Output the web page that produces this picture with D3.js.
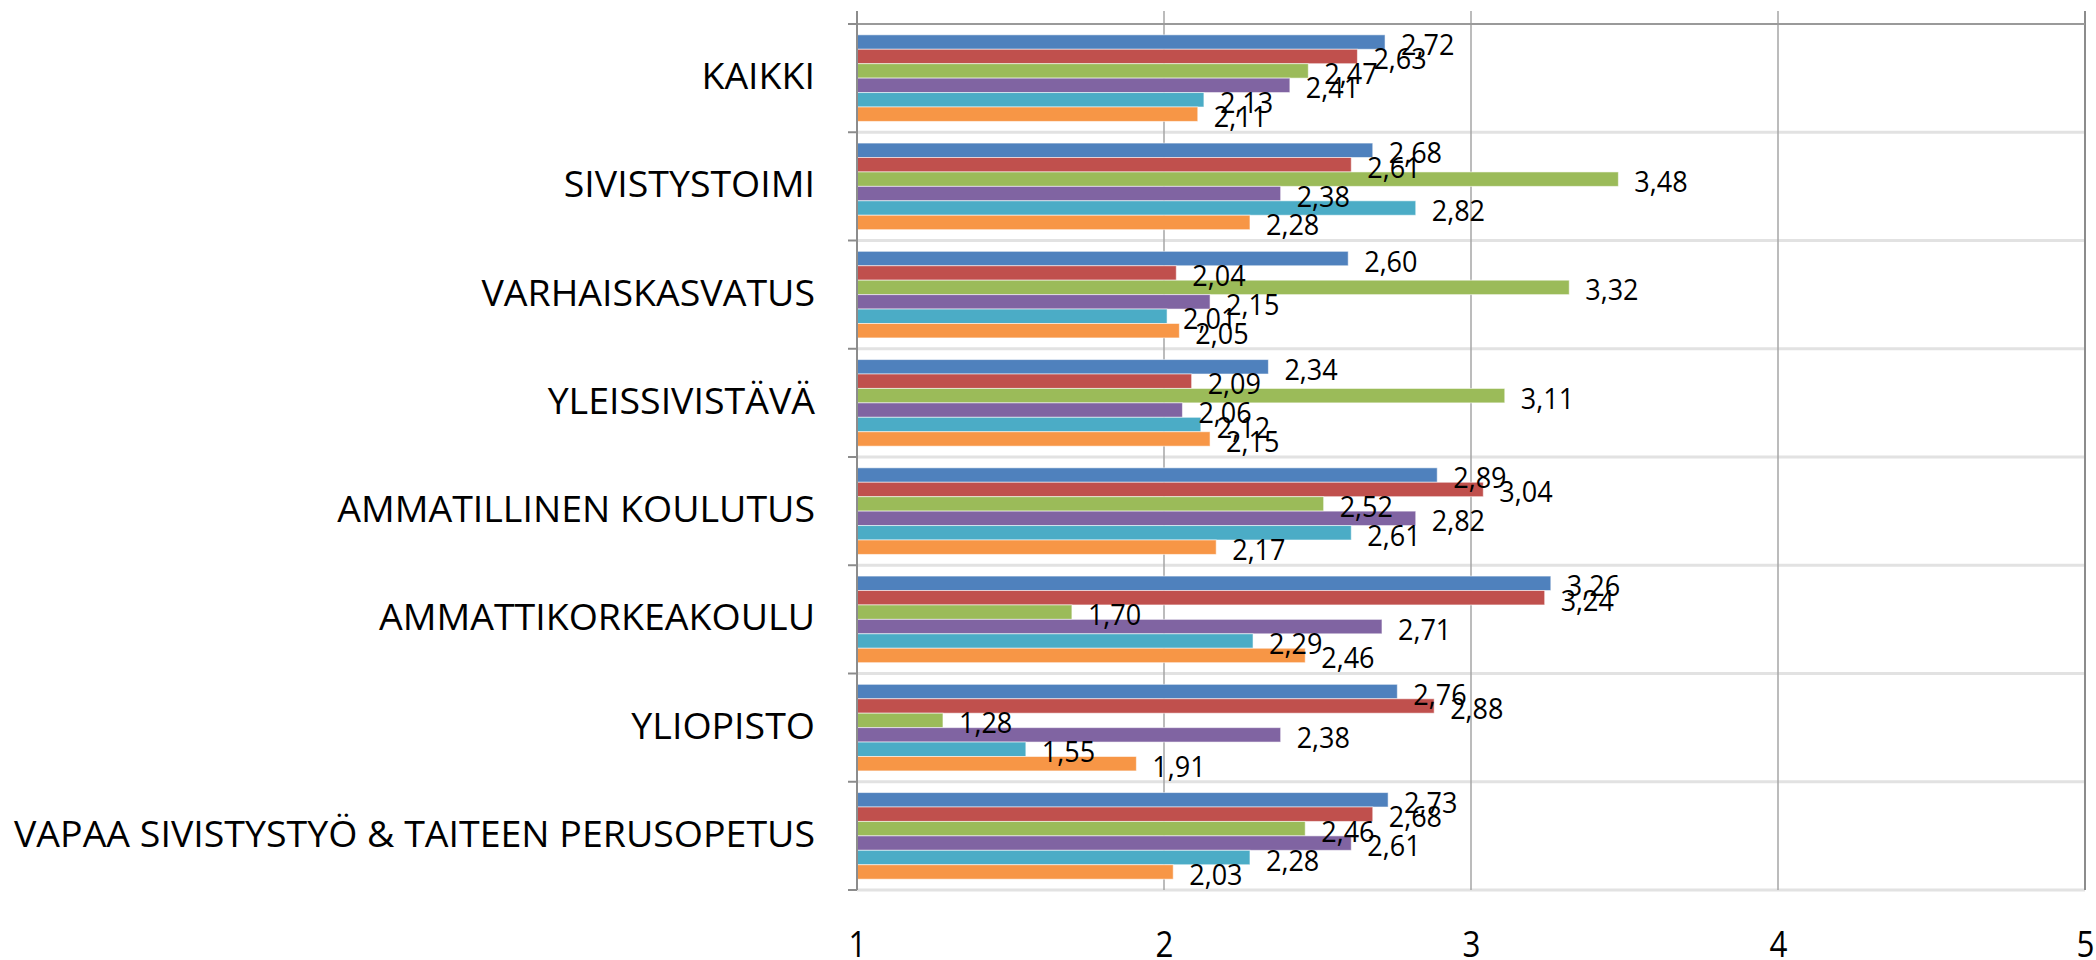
<!DOCTYPE html>
<html><head><meta charset="utf-8">
<script src="https://cdn.jsdelivr.net/npm/d3@7"></script>
<style>
html,body{margin:0;padding:0;background:#fff;}
svg{display:block;}
</style></head>
<body>
<svg id="chart" width="2096" height="960"></svg>
<script>
const categories = ["KAIKKI","SIVISTYSTOIMI","VARHAISKASVATUS","YLEISSIVISTÄVÄ","AMMATILLINEN KOULUTUS","AMMATTIKORKEAKOULU","YLIOPISTO","VAPAA SIVISTYSTYÖ & TAITEEN PERUSOPETUS"];
const seriesNames = ["Sarja 1","Sarja 2","Sarja 3","Sarja 4","Sarja 5","Sarja 6"];
const seriesColors = ["#4F81BD","#C0504D","#9BBB59","#8064A2","#4BACC6","#F79646"];
const series1 = [2.72,2.68,2.60,2.34,2.89,3.26,2.76,2.73];
const series2 = [2.63,2.61,2.04,2.09,3.04,3.24,2.88,2.68];
const series3 = [2.47,3.48,3.32,3.11,2.52,1.70,1.28,2.46];
const series4 = [2.41,2.38,2.15,2.06,2.82,2.71,2.38,2.61];
const series5 = [2.13,2.82,2.01,2.12,2.61,2.29,1.55,2.28];
const series6 = [2.11,2.28,2.05,2.15,2.17,2.46,1.91,2.03];
const xTicks = [1,2,3,4,5];

const seriesValues = [series1,series2,series3,series4,series5,series6];
const svg = d3.select("#chart");
const FONT = "'Open Sans', Lato, sans-serif";

const plot = {left:857, right:2085, top:24, bottom:890, frameTop:11};
const x = d3.scaleLinear().domain([1,5]).range([plot.left, plot.right]);
const y = d3.scaleBand().domain(categories).range([plot.top, plot.bottom]).paddingInner(0).paddingOuter(0);
const ys = d3.scaleBand().domain(d3.range(seriesNames.length)).range([0, y.bandwidth()]).paddingInner(0).paddingOuter(0.75);

function squeeze(sel, factor){
  sel.each(function(){
    const w = this.getComputedTextLength();
    d3.select(this).attr("textLength", w * factor).attr("lengthAdjust", "spacingAndGlyphs");
  });
}

// separators (category boundaries)
const bounds = categories.map(c => y(c)).concat([plot.bottom]);
svg.append("g").selectAll("line").data(bounds.slice(1)).join("line")
  .attr("x1", plot.left).attr("x2", plot.right)
  .attr("y1", d => d).attr("y2", d => d)
  .attr("stroke", "#e2e2e2").attr("stroke-width", 3);

// vertical gridlines
svg.append("g").selectAll("line").data(xTicks.slice(1)).join("line")
  .attr("x1", d => x(d)).attr("x2", d => x(d))
  .attr("y1", plot.frameTop).attr("y2", plot.bottom)
  .attr("stroke", d => d === 5 ? "#8c8c8c" : "#a6a6a6")
  .attr("stroke-width", d => d === 5 ? 2 : 1.5);

// top line
svg.append("line").attr("x1", plot.left - 8).attr("x2", plot.right).attr("y1", plot.top).attr("y2", plot.top)
  .attr("stroke", "#9a9a9a").attr("stroke-width", 2);

// bars
const gCat = svg.append("g").selectAll("g").data(categories).join("g")
  .attr("transform", c => `translate(0,${y(c)})`);
gCat.selectAll("rect").data((c, i) => seriesValues.map((s, k) => ({k, v: s[i]}))).join("rect")
  .attr("x", x(1))
  .attr("y", d => ys(d.k))
  .attr("width", d => x(d.v) - x(1))
  .attr("height", ys.bandwidth())
  .attr("fill", d => seriesColors[d.k])
  .attr("stroke", "rgba(255,255,255,0.55)").attr("stroke-width", 1);

// left axis line + ticks
svg.append("line").attr("x1", plot.left).attr("x2", plot.left).attr("y1", plot.frameTop).attr("y2", plot.bottom)
  .attr("stroke", "#8c8c8c").attr("stroke-width", 2);
svg.append("g").selectAll("line").data(bounds).join("line")
  .attr("x1", plot.left - 9).attr("x2", plot.left)
  .attr("y1", d => d).attr("y2", d => d)
  .attr("stroke", "#8c8c8c").attr("stroke-width", 2);

// data labels
const fmt = v => d3.format(".2f")(v).replace(".", ",");
const lbls = gCat.selectAll("text.lbl").data((c, i) => seriesValues.map((s, k) => ({k, v: s[i]}))).join("text")
  .attr("class", "lbl")
  .attr("x", d => x(d.v) + 16)
  .attr("y", d => ys(d.k) + ys.bandwidth() / 2 + 1.5)
  .attr("dominant-baseline", "central")
  .attr("font-family", FONT).attr("font-size", 30).attr("fill", "#000")
  .text(d => fmt(d.v));
squeeze(lbls, 0.9);

// category axis labels
const yAxis = d3.axisLeft(y).tickSize(0).tickPadding(42);
const gy = svg.append("g").attr("transform", `translate(${plot.left},0)`).call(yAxis);
gy.select(".domain").remove();
gy.selectAll("text").attr("font-family", FONT).attr("font-size", 37).attr("fill", "#000").attr("dy", "0.3em");
let longest = 0;
gy.selectAll("text").each(function(){ longest = Math.max(longest, this.getComputedTextLength()); });
squeeze(gy.selectAll("text"), 801 / longest);

// value axis labels
const xAxis = d3.axisBottom(x).tickValues(xTicks).tickFormat(d3.format("d")).tickSize(0).tickPadding(0);
const gx = svg.append("g").attr("transform", `translate(0,944)`).call(xAxis);
gx.select(".domain").remove();
const xt = gx.selectAll("text").attr("font-family", FONT).attr("font-size", 36).attr("fill", "#000")
  .attr("dy", "0.35em").attr("y", 0);
squeeze(xt, 0.87);
</script>
</body></html>
